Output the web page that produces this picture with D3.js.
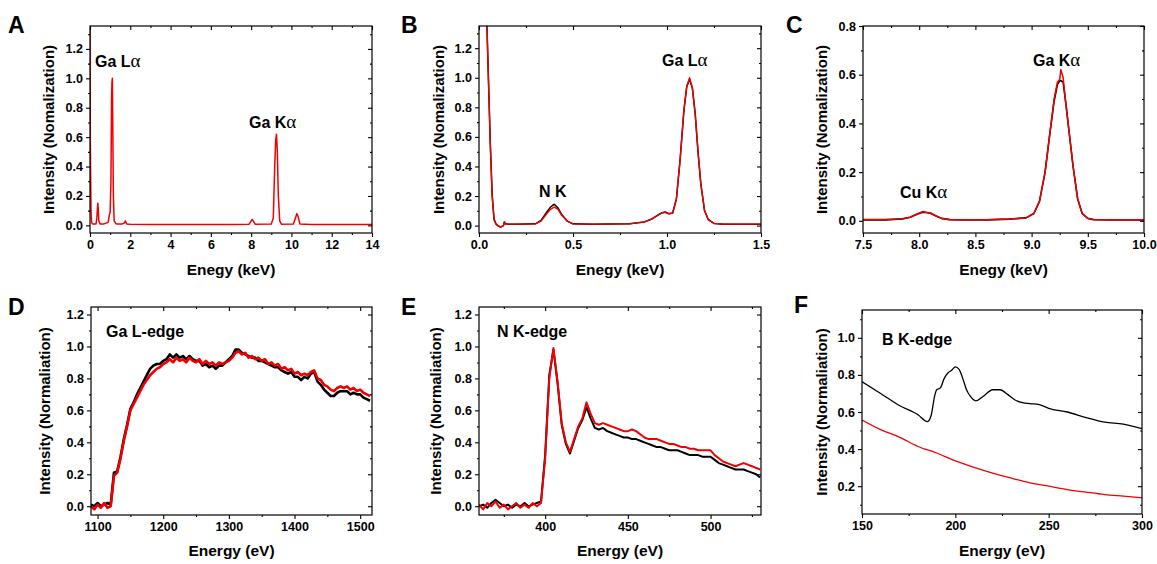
<html>
<head>
<meta charset="UTF-8">
<title>EDS / EELS spectra</title>
<script src="https://d3js.org/d3.v7.min.js"></script>
<style>
  html, body { margin: 0; padding: 0; background: #fff; }
  text { font-family: "Liberation Sans", Arial, sans-serif; font-weight: bold; fill: #000; }
  .frame { fill: none; stroke: #000; stroke-width: 1.2; }
  .tick line { stroke: #000; stroke-width: 1.1; }
  .domain { display: none; }
  .curve { fill: none; stroke-linejoin: round; }
</style>
</head>
<body>
<div id="container"></div>
<script>
// ---- A: EDS survey (keV) ----
const aEnergy = [0, 0.005, 0.015, 0.03, 0.05, 0.08, 0.12, 0.2, 0.3, 0.34, 0.37, 0.39, 0.41, 0.44, 0.5, 0.7, 0.9, 0.96, 1.0, 1.04, 1.07, 1.09, 1.11, 1.13, 1.16, 1.2, 1.3, 1.6, 1.7, 1.76, 1.82, 2.0, 3, 5, 7, 7.9, 8.0, 8.05, 8.1, 8.2, 9.0, 9.1, 9.17, 9.22, 9.26, 9.3, 9.35, 9.42, 9.5, 10.1, 10.2, 10.27, 10.33, 10.42, 11, 14];
const aRed = [1.45, 1.45, 0.57, 0.35, 0.1, 0.02, 0.01, 0.01, 0.01, 0.05, 0.12, 0.15, 0.11, 0.03, 0.01, 0.01, 0.02, 0.07, 0.09, 0.3, 0.85, 0.97, 1.0, 0.7, 0.2, 0.03, 0.01, 0.01, 0.015, 0.03, 0.01, 0.008, 0.006, 0.005, 0.005, 0.008, 0.03, 0.04, 0.03, 0.008, 0.01, 0.05, 0.4, 0.58, 0.62, 0.5, 0.2, 0.03, 0.008, 0.01, 0.05, 0.08, 0.06, 0.01, 0.005, 0.005];

// ---- B: low energy EDS (keV) ----
const bEnergy = [0.04, 0.05, 0.06, 0.07, 0.08, 0.09, 0.1, 0.115, 0.13, 0.135, 0.14, 0.16, 0.2, 0.3, 0.33, 0.36, 0.38, 0.4, 0.42, 0.44, 0.47, 0.5, 0.6, 0.8, 0.88, 0.92, 0.95, 0.97, 0.99, 1.01, 1.03, 1.05, 1.07, 1.09, 1.105, 1.12, 1.135, 1.15, 1.165, 1.18, 1.2, 1.22, 1.25, 1.3, 1.4, 1.5];
const bBlack = [1.45, 1.0, 0.56, 0.21, 0.045, 0.012, 0.0, -0.01, 0.0, 0.025, 0.012, 0.01, 0.01, 0.012, 0.035, 0.09, 0.125, 0.145, 0.12, 0.075, 0.03, 0.012, 0.01, 0.012, 0.025, 0.045, 0.07, 0.085, 0.092, 0.08, 0.085, 0.18, 0.45, 0.78, 0.94, 0.99, 0.93, 0.76, 0.5, 0.28, 0.1, 0.04, 0.015, 0.01, 0.01, 0.01];
const bRed = [1.45, 1.0, 0.55, 0.2, 0.04, 0.01, 0.0, -0.01, 0.0, 0.025, 0.012, 0.01, 0.01, 0.012, 0.03, 0.08, 0.11, 0.125, 0.11, 0.07, 0.03, 0.012, 0.01, 0.012, 0.025, 0.045, 0.07, 0.085, 0.09, 0.08, 0.085, 0.18, 0.45, 0.78, 0.94, 1.0, 0.93, 0.75, 0.5, 0.28, 0.1, 0.04, 0.015, 0.01, 0.01, 0.01];

// ---- C: high energy EDS (keV) ----
const cEnergy = [7.5, 7.7, 7.85, 7.92, 7.98, 8.03, 8.06, 8.1, 8.15, 8.2, 8.27, 8.4, 8.6, 8.8, 8.95, 9.02, 9.07, 9.12, 9.16, 9.2, 9.23, 9.25, 9.26, 9.28, 9.3, 9.33, 9.37, 9.41, 9.45, 9.5, 9.55, 9.7, 10];
const cBlack = [0.004, 0.004, 0.008, 0.015, 0.027, 0.035, 0.034, 0.031, 0.02, 0.01, 0.005, 0.004, 0.004, 0.007, 0.012, 0.03, 0.08, 0.2, 0.35, 0.49, 0.56, 0.575, 0.575, 0.57, 0.5, 0.38, 0.22, 0.09, 0.03, 0.01, 0.005, 0.004, 0.004];
const cRed = [0.005, 0.005, 0.008, 0.015, 0.028, 0.038, 0.035, 0.032, 0.02, 0.01, 0.005, 0.004, 0.004, 0.007, 0.012, 0.03, 0.08, 0.2, 0.35, 0.5, 0.57, 0.58, 0.62, 0.59, 0.5, 0.38, 0.22, 0.09, 0.03, 0.01, 0.005, 0.004, 0.004];

// ---- D: Ga L-edge (eV), 5 eV steps from 1090 ----
const dEnergy = d3.range(1090, 1516, 5);
const dBlack = [0.01, 0.00, 0.02, 0.00, 0.01, 0.02, 0.01, 0.21, 0.22, 0.31, 0.42, 0.51, 0.61, 0.65, 0.70, 0.74, 0.78, 0.82, 0.86, 0.88, 0.89, 0.89, 0.91, 0.92, 0.95, 0.93, 0.95, 0.93, 0.94, 0.92, 0.94, 0.92, 0.91, 0.91, 0.88, 0.89, 0.87, 0.88, 0.86, 0.88, 0.88, 0.90, 0.92, 0.94, 0.98, 0.98, 0.96, 0.95, 0.94, 0.93, 0.93, 0.91, 0.91, 0.90, 0.89, 0.88, 0.87, 0.87, 0.85, 0.84, 0.83, 0.84, 0.81, 0.81, 0.79, 0.81, 0.80, 0.83, 0.84, 0.78, 0.76, 0.73, 0.71, 0.69, 0.69, 0.71, 0.72, 0.72, 0.72, 0.70, 0.71, 0.70, 0.70, 0.68, 0.67, 0.66];
const dRed = [0.00, -0.02, 0.01, -0.01, 0.02, -0.01, 0.00, 0.19, 0.21, 0.30, 0.41, 0.50, 0.60, 0.64, 0.68, 0.72, 0.76, 0.79, 0.82, 0.84, 0.86, 0.87, 0.89, 0.90, 0.92, 0.90, 0.93, 0.91, 0.92, 0.90, 0.93, 0.91, 0.90, 0.92, 0.89, 0.91, 0.89, 0.90, 0.88, 0.90, 0.89, 0.90, 0.91, 0.93, 0.96, 0.97, 0.95, 0.96, 0.93, 0.94, 0.92, 0.93, 0.91, 0.92, 0.89, 0.90, 0.88, 0.89, 0.86, 0.87, 0.85, 0.86, 0.83, 0.84, 0.82, 0.83, 0.82, 0.84, 0.85, 0.80, 0.79, 0.76, 0.75, 0.73, 0.72, 0.74, 0.75, 0.74, 0.75, 0.73, 0.74, 0.72, 0.73, 0.71, 0.70, 0.69];

// ---- E: N K-edge (eV), 2.5 eV steps from 360 ----
const eEnergy = d3.range(360, 530.1, 2.5);
const eBlack = [0.00, 0.01, -0.01, 0.02, 0.04, 0.02, 0.00, 0.01, -0.01, 0.01, 0.00, 0.02, 0.00, 0.01, 0.02, 0.03, 0.32, 0.82, 0.98, 0.77, 0.51, 0.39, 0.33, 0.41, 0.49, 0.54, 0.62, 0.55, 0.49, 0.48, 0.49, 0.47, 0.46, 0.45, 0.44, 0.43, 0.43, 0.42, 0.42, 0.41, 0.40, 0.39, 0.38, 0.37, 0.37, 0.36, 0.35, 0.35, 0.35, 0.34, 0.33, 0.32, 0.32, 0.32, 0.31, 0.31, 0.31, 0.29, 0.27, 0.26, 0.25, 0.24, 0.23, 0.23, 0.23, 0.22, 0.21, 0.20, 0.18];
const eRed = [0.01, -0.02, 0.02, 0.00, 0.03, -0.01, 0.01, -0.02, 0.00, 0.02, -0.01, 0.01, -0.01, 0.02, 0.00, 0.02, 0.30, 0.80, 0.99, 0.78, 0.52, 0.40, 0.34, 0.42, 0.50, 0.55, 0.65, 0.58, 0.52, 0.51, 0.52, 0.51, 0.50, 0.49, 0.48, 0.47, 0.47, 0.48, 0.47, 0.45, 0.43, 0.42, 0.42, 0.42, 0.41, 0.40, 0.39, 0.39, 0.38, 0.37, 0.37, 0.36, 0.36, 0.35, 0.35, 0.35, 0.35, 0.32, 0.30, 0.28, 0.27, 0.26, 0.25, 0.26, 0.27, 0.26, 0.25, 0.24, 0.23];

// ---- F: B K-edge (eV) ----
const fEnergyBlack = [150, 160, 170, 180, 185, 187, 189, 190, 192, 194, 196, 198, 200, 202, 204, 206, 208, 211, 215, 220, 224, 228, 232, 236, 240, 245, 250, 260, 270, 280, 290, 300];
const fBlack = [0.763, 0.70, 0.635, 0.585, 0.548, 0.58, 0.69, 0.72, 0.73, 0.78, 0.81, 0.825, 0.843, 0.83, 0.78, 0.72, 0.685, 0.66, 0.685, 0.72, 0.72, 0.695, 0.665, 0.65, 0.645, 0.64, 0.62, 0.60, 0.57, 0.545, 0.535, 0.51];
const fEnergyRed = [150, 160, 170, 180, 190, 200, 210, 220, 230, 240, 250, 260, 270, 280, 290, 300];
const fRed = [0.557, 0.505, 0.465, 0.414, 0.379, 0.336, 0.302, 0.271, 0.243, 0.218, 0.2, 0.182, 0.168, 0.155, 0.146, 0.137];

const BLACK = "#000", RED = "#f00000";

const svg = d3.select("#container").append("svg")
    .attr("width", 1157).attr("height", 564);

let clipId = 0;
function panel(p) {
    const x = d3.scaleLinear().domain(p.xDomain).range([p.left, p.right]);
    const y = d3.scaleLinear().domain(p.yDomain).range([p.bottom, p.top]);
    const g = svg.append("g");
    const id = "clip" + (clipId++);
    g.append("clipPath").attr("id", id).append("rect")
        .attr("x", p.left).attr("y", p.top)
        .attr("width", p.right - p.left).attr("height", p.bottom - p.top);

    const line = d3.line().x(d => x(d[0])).y(d => y(d[1])).curve(p.curve || d3.curveLinear);
    const plot = g.append("g").attr("clip-path", "url(#" + id + ")");
    p.series.forEach(s => {
        plot.append("path").attr("class", "curve")
            .datum(d3.zip(s.x, s.y))
            .attr("stroke", s.color).attr("stroke-width", s.width || 1.3)
            .attr("d", line);
    });

    // major + minor ticks: outward on bottom/left, inward on top/right
    const fx = d3.format(p.xFormat), fy = d3.format(p.yFormat);
    const axes = [
        [d3.axisBottom(x), "translate(0," + p.bottom + ")", p.xTicks, p.xMinor, 4, 2, fx],
        [d3.axisTop(x), "translate(0," + p.top + ")", p.xTicks, p.xMinor, -4, -2, null],
        [d3.axisLeft(y), "translate(" + p.left + ",0)", p.yTicks, p.yMinor, 4, 2, fy],
        [d3.axisRight(y), "translate(" + p.right + ",0)", p.yTicks, p.yMinor, -4, -2, null]
    ];
    axes.forEach(([ax, tr, maj, minr, big, small, fmt]) => {
        const ga = g.append("g").attr("transform", tr)
            .call(ax.tickValues(maj).tickSize(big).tickPadding(3)
                .tickFormat(fmt ? fmt : () => ""));
        ga.selectAll("text").style("font-size", "12.5px").style("font-family", null).attr("fill", "#000");
        g.append("g").attr("transform", tr)
            .call(ax.tickValues(minr).tickSize(small).tickFormat(() => ""));
    });

    g.append("rect").attr("class", "frame")
        .attr("x", p.left).attr("y", p.top)
        .attr("width", p.right - p.left).attr("height", p.bottom - p.top);

    // titles
    g.append("text").attr("x", (p.left + p.right) / 2).attr("y", p.xTitleY)
        .attr("text-anchor", "middle").style("font-size", "15.5px").text(p.xTitle);
    g.append("text")
        .attr("transform", "translate(" + p.yTitleX + "," + (p.top + p.bottom) / 2 + ") rotate(-90)")
        .attr("text-anchor", "middle").style("font-size", "15px").text(p.yTitle);
    g.append("text").attr("x", p.letterX).attr("y", p.letterY)
        .style("font-size", "23px").text(p.letter);

    p.notes.forEach(n => {
        const t = g.append("text").attr("x", n.x).attr("y", n.y).style("font-size", "16px").text(n.text);
        if (n.greek) {
            t.append("tspan").style("font-family", "'Liberation Serif', 'Times New Roman', serif")
                .style("font-weight", "normal").style("font-size", "19px").text(n.greek);
        }
    });
}

const seq = (a, b, s) => d3.range(a, b + s / 2, s);

panel({
    letter: "A", letterX: 8, letterY: 33,
    left: 90, right: 372, top: 26, bottom: 233,
    xDomain: [0, 14], yDomain: [-0.052, 1.356],
    xTicks: seq(0, 14, 2), xMinor: seq(1, 13, 2), yTicks: seq(0, 1.2, 0.2), yMinor: seq(0.1, 1.3, 0.2),
    xFormat: "d", yFormat: ".1f",
    xTitle: "Enegy (keV)", xTitleY: 275, yTitle: "Intensity (Nomalization)", yTitleX: 54,
    series: [{ x: aEnergy, y: aRed, color: RED, width: 1.5 }],
    notes: [{ x: 95, y: 67, text: "Ga L", greek: "\u03b1" }, { x: 249, y: 128, text: "Ga K", greek: "\u03b1" }]
});

panel({
    letter: "B", letterX: 401, letterY: 33,
    left: 479, right: 761, top: 26, bottom: 233,
    xDomain: [0, 1.5], yDomain: [-0.05, 1.35],
    xTicks: seq(0, 1.5, 0.5), xMinor: seq(0.25, 1.25, 0.5), yTicks: seq(0, 1.2, 0.2), yMinor: seq(0.1, 1.3, 0.2),
    xFormat: ".1f", yFormat: ".1f",
    xTitle: "Enegy (keV)", xTitleY: 275, yTitle: "Intensity (Nomalization)", yTitleX: 444,
    series: [{ x: bEnergy, y: bBlack, color: BLACK, width: 1.5 }, { x: bEnergy, y: bRed, color: RED, width: 1.4 }],
    notes: [{ x: 539, y: 197, text: "N K" }, { x: 662, y: 66, text: "Ga L", greek: "\u03b1" }]
});

panel({
    letter: "C", letterX: 786, letterY: 33,
    left: 863, right: 1144, top: 26, bottom: 233,
    xDomain: [7.5, 10], yDomain: [-0.05, 0.8],
    xTicks: seq(7.5, 10, 0.5), xMinor: seq(7.75, 9.75, 0.5), yTicks: seq(0, 0.8, 0.2), yMinor: seq(0.1, 0.7, 0.2),
    xFormat: ".1f", yFormat: ".1f",
    xTitle: "Enegy (keV)", xTitleY: 275, yTitle: "Intensity (Nomalization)", yTitleX: 827,
    series: [{ x: cEnergy, y: cBlack, color: BLACK, width: 1.6 }, { x: cEnergy, y: cRed, color: RED, width: 1.5 }],
    notes: [{ x: 900, y: 198, text: "Cu K", greek: "\u03b1" }, { x: 1033, y: 66, text: "Ga K", greek: "\u03b1" }]
});

panel({
    letter: "D", letterX: 8, letterY: 315,
    left: 91, right: 372, top: 307, bottom: 515,
    xDomain: [1090, 1518], yDomain: [-0.055, 1.247],
    xTicks: seq(1100, 1500, 100), xMinor: seq(1150, 1450, 100), yTicks: seq(0, 1.2, 0.2), yMinor: seq(0.1, 1.1, 0.2),
    xFormat: "d", yFormat: ".1f",
    xTitle: "Energy (eV)", xTitleY: 556, yTitle: "Intensity (Normaliation)", yTitleX: 50,
    series: [{ x: dEnergy, y: dBlack, color: BLACK, width: 2.6 }, { x: dEnergy, y: dRed, color: RED, width: 2.6 }],
    notes: [{ x: 106, y: 337, text: "Ga L-edge" }]
});

panel({
    letter: "E", letterX: 401, letterY: 315,
    left: 479, right: 761, top: 307, bottom: 515,
    xDomain: [360, 530.5], yDomain: [-0.055, 1.247],
    xTicks: [400, 450, 500], xMinor: [375, 425, 475, 525], yTicks: seq(0, 1.2, 0.2), yMinor: seq(0.1, 1.1, 0.2),
    xFormat: "d", yFormat: ".1f",
    xTitle: "Energy (eV)", xTitleY: 556, yTitle: "Intensity (Normaliation)", yTitleX: 441,
    series: [{ x: eEnergy, y: eBlack, color: BLACK, width: 2 }, { x: eEnergy, y: eRed, color: RED, width: 2 }],
    notes: [{ x: 497, y: 337, text: "N K-edge" }]
});

panel({
    letter: "F", letterX: 794, letterY: 313,
    left: 862, right: 1142, top: 310, bottom: 514,
    xDomain: [150, 300], yDomain: [0.05, 1.15], curve: d3.curveMonotoneX,
    xTicks: seq(150, 300, 50), xMinor: seq(175, 275, 50), yTicks: seq(0.2, 1.0, 0.2), yMinor: seq(0.1, 1.1, 0.2),
    xFormat: "d", yFormat: ".1f",
    xTitle: "Energy (eV)", xTitleY: 556, yTitle: "Intensity (Normaliation)", yTitleX: 827,
    series: [{ x: fEnergyBlack, y: fBlack, color: BLACK }, { x: fEnergyRed, y: fRed, color: RED }],
    notes: [{ x: 882, y: 345, text: "B K-edge" }]
});
</script>
</body>
</html>
